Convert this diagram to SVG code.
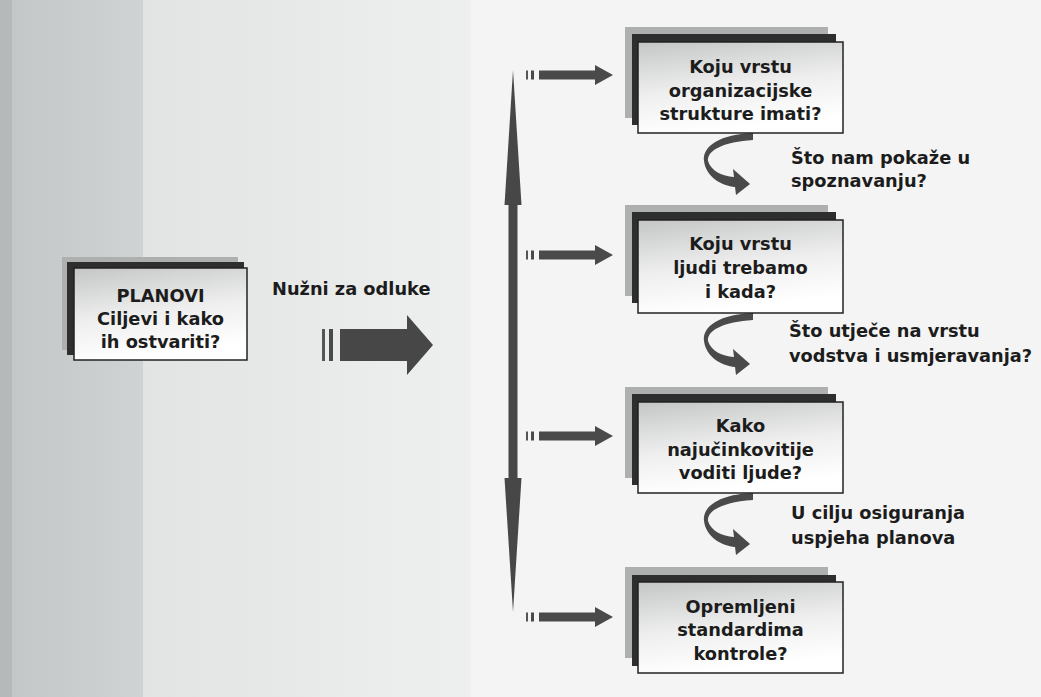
<svg xmlns="http://www.w3.org/2000/svg" width="1041" height="697" viewBox="0 0 1041 697">
  <defs>
    <linearGradient id="face" x1="0" y1="0" x2="0.25" y2="1">
      <stop offset="0" stop-color="#c4c6c6"/>
      <stop offset="0.55" stop-color="#eeeeee"/>
      <stop offset="1" stop-color="#ffffff"/>
    </linearGradient>
    <linearGradient id="paperMid" x1="0" y1="0" x2="1" y2="0">
      <stop offset="0" stop-color="#e2e4e4"/>
      <stop offset="1" stop-color="#eeefef"/>
    </linearGradient>
    <linearGradient id="paperLeft" x1="0" y1="0" x2="1" y2="0">
      <stop offset="0" stop-color="#c4c7c7"/>
      <stop offset="1" stop-color="#d0d3d3"/>
    </linearGradient>
    <!-- small right-pointing connector with two leading ticks -->
    <g id="smallArrow">
      <rect x="0" y="-4.5" width="2" height="9" fill="#555"/>
      <rect x="5" y="-4.5" width="3" height="9" fill="#4a4a4a"/>
      <polygon points="13,-4.5 69,-4.5 69,-10 87,0 69,10 69,4.5 13,4.5" fill="#4a4a4a"/>
    </g>
    <!-- C-shaped turn arrow below a box; origin = box bottom -->
    <path id="turnArrow" d="M753,0 C721,1 702,13 704,28 C706,44 722,53 735,54 L736,62 L750,51 L733,36 L734,44 C722,43 711,38 708,28 C707,17 724,9 753,7 Z" fill="#4a4a4a"/>
  </defs>
  <style>
    .lbl { font-family: "DejaVu Sans", Verdana, sans-serif; font-weight: bold; font-size: 17.8px; fill: #1c1c1c; }
    .mid { text-anchor: middle; }
    .back { fill: #aeb0b0; }
    .shade { fill: #2e2e2e; }
    .front { fill: url(#face); stroke: #222; stroke-width: 1.5; }
    .conn { fill: #474747; }
  </style>

  <!-- paper background -->
  <rect x="0" y="0" width="1041" height="697" fill="#f4f4f4"/>
  <rect x="143" y="0" width="328" height="697" fill="url(#paperMid)"/>
  <rect x="12" y="0" width="131" height="697" fill="url(#paperLeft)"/>
  <rect x="0" y="0" width="12" height="697" fill="#b6b9b9"/>

  <!-- connectors -->
  <g id="connectors">
    <!-- main arrow from plans -->
    <rect x="322" y="329" width="3" height="32" fill="#555"/>
    <rect x="329" y="329" width="4" height="32" fill="#4a4a4a"/>
    <polygon class="conn" points="340,329 407,329 407,315 433,345 407,375 407,361 340,361"/>
    <!-- vertical double-headed arrow -->
    <polygon class="conn" points="513,70 521.5,205 517.5,205 517.5,478 521.5,478 513,612 504.5,478 508.5,478 508.5,205 504.5,205"/>
    <!-- branch arrows to each question -->
    <use href="#smallArrow" x="526" y="75"/>
    <use href="#smallArrow" x="526" y="255"/>
    <use href="#smallArrow" x="526" y="436"/>
    <use href="#smallArrow" x="526" y="617"/>
    <!-- turn arrows between questions -->
    <use href="#turnArrow" x="0" y="133"/>
    <use href="#turnArrow" x="0" y="313"/>
    <use href="#turnArrow" x="0" y="493"/>
  </g>

  <!-- plans -->
  <g id="plans">
    <rect class="back" x="62" y="257" width="176" height="93"/>
    <rect class="shade" x="67" y="262" width="177" height="93"/>
    <rect class="front" x="74" y="268" width="173" height="92"/>
    <text class="lbl mid" x="160.5" y="302">PLANOVI</text>
    <text class="lbl mid" x="160.5" y="325">Ciljevi i kako</text>
    <text class="lbl mid" x="160.5" y="348">ih ostvariti?</text>
  </g>

  <g id="label-decisions">
    <text class="lbl" x="272" y="295">Nužni za odluke</text>
  </g>

  <!-- question boxes -->
  <g id="q-structure">
    <rect class="back" x="625" y="27" width="203" height="91"/>
    <rect class="shade" x="632" y="34" width="204" height="91"/>
    <rect class="front" x="638" y="42" width="205" height="91"/>
    <text class="lbl mid" x="740.5" y="73">Koju vrstu</text>
    <text class="lbl mid" x="740.5" y="97">organizacijske</text>
    <text class="lbl mid" x="740.5" y="120">strukture imati?</text>
  </g>

  <g id="q-people">
    <rect class="back" x="625" y="205" width="203" height="91"/>
    <rect class="shade" x="632" y="212" width="204" height="91"/>
    <rect class="front" x="638" y="220" width="205" height="93"/>
    <text class="lbl mid" x="740.5" y="250">Koju vrstu</text>
    <text class="lbl mid" x="740.5" y="274">ljudi trebamo</text>
    <text class="lbl mid" x="740.5" y="298">i kada?</text>
  </g>

  <g id="q-leading">
    <rect class="back" x="625" y="387" width="203" height="91"/>
    <rect class="shade" x="632" y="394" width="204" height="91"/>
    <rect class="front" x="638" y="402" width="205" height="91"/>
    <text class="lbl mid" x="740.5" y="432">Kako</text>
    <text class="lbl mid" x="740.5" y="456">najučinkovitije</text>
    <text class="lbl mid" x="740.5" y="479">voditi ljude?</text>
  </g>

  <g id="q-control">
    <rect class="back" x="625" y="567" width="203" height="91"/>
    <rect class="shade" x="632" y="575" width="204" height="91"/>
    <rect class="front" x="638" y="582" width="205" height="91"/>
    <text class="lbl mid" x="740.5" y="613">Opremljeni</text>
    <text class="lbl mid" x="740.5" y="636">standardima</text>
    <text class="lbl mid" x="740.5" y="660">kontrole?</text>
  </g>

  <!-- notes beside the turn arrows -->
  <g id="note-1">
    <text class="lbl" x="791" y="164">Što nam pokaže u</text>
    <text class="lbl" x="791" y="187">spoznavanju?</text>
  </g>
  <g id="note-2">
    <text class="lbl" x="789" y="337">Što utječe na vrstu</text>
    <text class="lbl" x="789" y="362">vodstva i usmjeravanja?</text>
  </g>
  <g id="note-3">
    <text class="lbl" x="791" y="519">U cilju osiguranja</text>
    <text class="lbl" x="791" y="544">uspjeha planova</text>
  </g>
</svg>
